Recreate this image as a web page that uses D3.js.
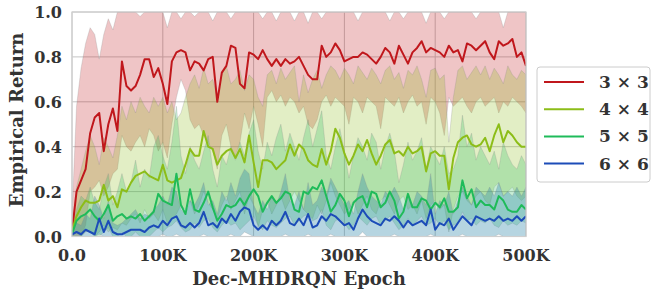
<!DOCTYPE html>
<html>
<head>
<meta charset="utf-8">
<script src="https://cdn.jsdelivr.net/npm/d3@7"></script>
<style>
  body { margin: 0; background: #fff; }
  svg { display: block; }
  text { font-family: "DejaVu Serif", serif; font-weight: bold; fill: #333; }
</style>
</head>
<body>
<div id="chart"></div>
<script>
// x categories: epochs every 5K
var epochs = d3.range(0, 500001, 5000);
var xTicks = [0, 100000, 200000, 300000, 400000, 500000];
var xTickLabels = ["0.0", "100K", "200K", "300K", "400K", "500K"];
var yTicks = [0, 0.2, 0.4, 0.6, 0.8, 1.0];
var seriesNames = ["3 \u00d7 3", "4 \u00d7 4", "5 \u00d7 5", "6 \u00d7 6"];
var seriesColors = ["#c0171c", "#8cbd18", "#1fbb5a", "#1c4cb8"];
var bandColors = ["#c0171c", "#8cbd18", "#1fbb5a", "#2f86a8"];
var bandOpacity = [0.25, 0.25, 0.25, 0.35];

// mean returns
var mean3 = [0.02, 0.20, 0.25, 0.30, 0.46, 0.53, 0.55, 0.38, 0.50, 0.57,
  0.47, 0.78, 0.67, 0.65, 0.67, 0.72, 0.79, 0.79, 0.71, 0.75,
  0.68, 0.59, 0.78, 0.82, 0.83, 0.82, 0.74, 0.78, 0.77, 0.74,
  0.79, 0.80, 0.60, 0.73, 0.76, 0.85, 0.84, 0.68, 0.66, 0.82,
  0.81, 0.79, 0.83, 0.79, 0.76, 0.79, 0.76, 0.79, 0.77, 0.78,
  0.80, 0.76, 0.72, 0.70, 0.70, 0.85, 0.80, 0.82, 0.86, 0.83,
  0.78, 0.79, 0.80, 0.80, 0.82, 0.81, 0.79, 0.77, 0.80, 0.84,
  0.82, 0.77, 0.85, 0.81, 0.77, 0.82, 0.84, 0.87, 0.82, 0.84,
  0.83, 0.82, 0.80, 0.85, 0.82, 0.83, 0.78, 0.86, 0.85, 0.83,
  0.85, 0.87, 0.82, 0.79, 0.87, 0.85, 0.86, 0.88, 0.80, 0.82,
  0.76];
var mean4 = [0.03, 0.09, 0.13, 0.16, 0.15, 0.15, 0.16, 0.23, 0.16, 0.18,
  0.13, 0.21, 0.20, 0.24, 0.27, 0.28, 0.29, 0.27, 0.26, 0.25,
  0.32, 0.25, 0.24, 0.25, 0.26, 0.32, 0.39, 0.36, 0.36, 0.47,
  0.40, 0.39, 0.32, 0.36, 0.38, 0.39, 0.35, 0.39, 0.33, 0.45,
  0.33, 0.22, 0.34, 0.34, 0.33, 0.30, 0.32, 0.34, 0.41, 0.36,
  0.41, 0.39, 0.34, 0.32, 0.31, 0.39, 0.32, 0.38, 0.48, 0.44,
  0.37, 0.32, 0.36, 0.41, 0.38, 0.43, 0.37, 0.32, 0.36, 0.41,
  0.43, 0.37, 0.38, 0.36, 0.40, 0.37, 0.38, 0.40, 0.29, 0.37,
  0.38, 0.36, 0.36, 0.21, 0.35, 0.42, 0.44, 0.45, 0.41, 0.40,
  0.41, 0.44, 0.38, 0.45, 0.50, 0.42, 0.47, 0.45, 0.42, 0.40,
  0.40];
var mean5 = [0.01, 0.07, 0.09, 0.10, 0.12, 0.09, 0.07, 0.10, 0.14, 0.07,
  0.09, 0.10, 0.08, 0.09, 0.08, 0.10, 0.07, 0.09, 0.11, 0.19,
  0.16, 0.15, 0.14, 0.28, 0.14, 0.10, 0.21, 0.12, 0.11, 0.15,
  0.20, 0.13, 0.07, 0.10, 0.14, 0.13, 0.14, 0.17, 0.14, 0.18,
  0.21, 0.18, 0.11, 0.15, 0.18, 0.15, 0.17, 0.20, 0.19, 0.12,
  0.11, 0.20, 0.19, 0.22, 0.21, 0.25, 0.18, 0.11, 0.14, 0.19,
  0.16, 0.09, 0.15, 0.17, 0.18, 0.13, 0.20, 0.19, 0.13, 0.15,
  0.20, 0.16, 0.08, 0.11, 0.19, 0.13, 0.13, 0.17, 0.16, 0.12,
  0.15, 0.13, 0.17, 0.11, 0.11, 0.13, 0.25, 0.17, 0.21, 0.13,
  0.16, 0.14, 0.14, 0.12, 0.18, 0.16, 0.12, 0.11, 0.11, 0.14,
  0.12];
var mean6 = [0.01, 0.02, 0.01, 0.03, 0.02, 0.01, 0.08, 0.02, 0.07, 0.02,
  0.01, 0.01, 0.02, 0.03, 0.03, 0.03, 0.02, 0.04, 0.05, 0.04,
  0.07, 0.05, 0.08, 0.09, 0.05, 0.04, 0.06, 0.04, 0.06, 0.11,
  0.05, 0.06, 0.04, 0.08, 0.06, 0.10, 0.07, 0.11, 0.13, 0.12,
  0.05, 0.03, 0.05, 0.03, 0.07, 0.05, 0.07, 0.11, 0.06, 0.05,
  0.08, 0.05, 0.10, 0.04, 0.05, 0.09, 0.07, 0.10, 0.09, 0.07,
  0.05, 0.06, 0.03, 0.08, 0.12, 0.09, 0.07, 0.06, 0.05, 0.08,
  0.07, 0.09, 0.07, 0.04, 0.07, 0.05, 0.06, 0.07, 0.05, 0.12,
  0.03, 0.06, 0.05, 0.08, 0.03, 0.06, 0.09, 0.07, 0.05, 0.09,
  0.08, 0.07, 0.08, 0.07, 0.09, 0.07, 0.08, 0.07, 0.09, 0.07,
  0.09];

// shaded band edges
var upper3 = [0.10, 0.58, 0.75, 0.86, 0.93, 0.90, 0.79, 0.90, 0.97, 0.92,
  1.0, 1.0, 1.0, 1.0, 1.0, 0.98, 1.0, 1.0, 1.0, 1.0,
  1.0, 0.93, 1.0, 1.0, 0.97, 1.0, 1.0, 0.98, 1.0, 1.0,
  1.0, 0.96, 1.0, 1.0, 1.0, 0.97, 1.0, 1.0, 1.0, 1.0,
  1.0, 1.0, 0.97, 1.0, 1.0, 0.96, 1.0, 1.0, 1.0, 0.96,
  1.0, 1.0, 0.95, 1.0, 1.0, 0.97, 1.0, 1.0, 1.0, 1.0,
  1.0, 1.0, 1.0, 0.96, 1.0, 1.0, 1.0, 1.0, 1.0, 1.0,
  0.96, 1.0, 1.0, 0.97, 1.0, 1.0, 1.0, 1.0, 0.95, 1.0,
  1.0, 1.0, 0.97, 1.0, 1.0, 1.0, 1.0, 1.0, 1.0, 0.97,
  1.0, 1.0, 1.0, 1.0, 1.0, 0.93, 1.0, 1.0, 1.0, 1.0,
  1.0];
var lower3 = [0.0, 0.0, 0.0, 0.05, 0.20, 0.22, 0.25, 0.18, 0.22, 0.28,
  0.30, 0.45, 0.40, 0.38, 0.42, 0.45, 0.40, 0.48, 0.45, 0.38,
  0.42, 0.35, 0.50, 0.62, 0.70, 0.65, 0.52, 0.48, 0.50, 0.45,
  0.42, 0.38, 0.30, 0.45, 0.50, 0.40, 0.36, 0.42, 0.55, 0.48,
  0.58, 0.50, 0.40, 0.62, 0.65, 0.60, 0.63, 0.58, 0.62, 0.60,
  0.55, 0.58, 0.50, 0.48, 0.52, 0.60, 0.63, 0.58, 0.62, 0.60,
  0.58, 0.50, 0.62, 0.60, 0.55, 0.62, 0.60, 0.58, 0.48, 0.62,
  0.60, 0.58, 0.62, 0.55, 0.60, 0.63, 0.58, 0.60, 0.50, 0.62,
  0.60, 0.55, 0.45, 0.62, 0.58, 0.60, 0.62, 0.58, 0.55, 0.60,
  0.62, 0.58, 0.60, 0.62, 0.55, 0.60, 0.58, 0.62, 0.60, 0.58,
  0.55];
var upper4 = [0.05, 0.22, 0.30, 0.38, 0.45, 0.40, 0.32, 0.44, 0.40, 0.35,
  0.45, 0.58, 0.52, 0.60, 0.55, 0.62, 0.58, 0.55, 0.62, 0.58,
  0.62, 0.55, 0.60, 0.52, 0.55, 0.62, 0.68, 0.72, 0.66, 0.75,
  0.68, 0.70, 0.62, 0.72, 0.76, 0.68, 0.70, 0.74, 0.65, 0.72,
  0.70, 0.62, 0.58, 0.72, 0.74, 0.68, 0.75, 0.70, 0.73, 0.76,
  0.60, 0.72, 0.64, 0.70, 0.74, 0.66, 0.72, 0.76, 0.74, 0.70,
  0.75, 0.72, 0.68, 0.76, 0.73, 0.70, 0.75, 0.72, 0.68, 0.74,
  0.76, 0.70, 0.73, 0.66, 0.74, 0.72, 0.76, 0.70, 0.62, 0.74,
  0.75, 0.70, 0.72, 0.42, 0.62, 0.74, 0.76, 0.70, 0.73, 0.76,
  0.72, 0.76, 0.70, 0.75, 0.72, 0.68, 0.76, 0.72, 0.70, 0.74,
  0.72];
var lower4 = [0.0, 0.0, 0.0, 0.02, 0.03, 0.0, 0.02, 0.05, 0.02, 0.04,
  0.03, 0.06, 0.05, 0.08, 0.10, 0.06, 0.12, 0.08, 0.10, 0.07,
  0.12, 0.06, 0.08, 0.10, 0.14, 0.12, 0.16, 0.10, 0.14, 0.20,
  0.15, 0.12, 0.08, 0.14, 0.18, 0.12, 0.16, 0.20, 0.10, 0.18,
  0.14, 0.04, 0.12, 0.16, 0.10, 0.14, 0.18, 0.12, 0.16, 0.20,
  0.16, 0.12, 0.10, 0.08, 0.14, 0.10, 0.16, 0.24, 0.18, 0.14,
  0.10, 0.12, 0.16, 0.10, 0.14, 0.18, 0.12, 0.10, 0.16, 0.18,
  0.14, 0.10, 0.16, 0.18, 0.12, 0.14, 0.10, 0.16, 0.08, 0.14,
  0.16, 0.12, 0.14, 0.02, 0.12, 0.18, 0.20, 0.16, 0.14, 0.18,
  0.20, 0.16, 0.14, 0.22, 0.24, 0.18, 0.20, 0.22, 0.18, 0.16,
  0.18];
var upper5 = [0.02, 0.12, 0.18, 0.16, 0.22, 0.15, 0.12, 0.22, 0.28, 0.14,
  0.20, 0.28, 0.20, 0.24, 0.34, 0.22, 0.30, 0.26, 0.40, 0.45,
  0.36, 0.30, 0.42, 0.58, 0.36, 0.28, 0.40, 0.34, 0.30, 0.38,
  0.45, 0.30, 0.22, 0.36, 0.32, 0.40, 0.34, 0.42, 0.36, 0.46,
  0.52, 0.38, 0.30, 0.42, 0.36, 0.44, 0.50, 0.38, 0.46, 0.40,
  0.34, 0.44, 0.52, 0.40, 0.48, 0.56, 0.36, 0.30, 0.40, 0.48,
  0.38, 0.26, 0.36, 0.44, 0.40, 0.34, 0.46, 0.42, 0.30, 0.40,
  0.46, 0.38, 0.24, 0.32, 0.42, 0.34, 0.38, 0.44, 0.30, 0.40,
  0.36, 0.32, 0.40, 0.28, 0.30, 0.36, 0.54, 0.40, 0.46, 0.34,
  0.40, 0.36, 0.32, 0.38, 0.30, 0.42, 0.36, 0.32, 0.30, 0.36,
  0.32];
var lower5 = [0.0, 0.02, 0.0, 0.03, 0.02, 0.0, 0.0, 0.02, 0.04, 0.0,
  0.0, 0.02, 0.0, 0.0, 0.02, 0.0, 0.0, 0.0, 0.02, 0.04,
  0.02, 0.04, 0.05, 0.07, 0.04, 0.02, 0.03, 0.06, 0.04, 0.07,
  0.08, 0.04, 0.02, 0.05, 0.07, 0.05, 0.06, 0.03, 0.05, 0.07,
  0.09, 0.05, 0.03, 0.07, 0.05, 0.04, 0.06, 0.08, 0.09, 0.05,
  0.07, 0.09, 0.10, 0.07, 0.08, 0.12, 0.05, 0.03, 0.07, 0.08,
  0.06, 0.03, 0.05, 0.09, 0.07, 0.05, 0.08, 0.09, 0.05, 0.07,
  0.09, 0.06, 0.03, 0.05, 0.08, 0.05, 0.07, 0.09, 0.05, 0.06,
  0.08, 0.05, 0.07, 0.03, 0.05, 0.06, 0.11, 0.07, 0.08, 0.05,
  0.07, 0.06, 0.08, 0.05, 0.04, 0.07, 0.05, 0.06, 0.05, 0.07,
  0.06];
var upper6 = [0.02, 0.06, 0.05, 0.10, 0.08, 0.18, 0.14, 0.08, 0.16, 0.06,
  0.05, 0.06, 0.08, 0.10, 0.12, 0.08, 0.10, 0.09, 0.12, 0.14,
  0.18, 0.14, 0.22, 0.20, 0.12, 0.10, 0.16, 0.14, 0.18, 0.24,
  0.14, 0.16, 0.10, 0.20, 0.16, 0.24, 0.18, 0.26, 0.30, 0.28,
  0.14, 0.10, 0.16, 0.12, 0.18, 0.14, 0.20, 0.28, 0.16, 0.14,
  0.20, 0.12, 0.24, 0.14, 0.16, 0.22, 0.18, 0.26, 0.22, 0.18,
  0.14, 0.16, 0.10, 0.20, 0.28, 0.22, 0.18, 0.16, 0.14, 0.20,
  0.18, 0.22, 0.18, 0.12, 0.18, 0.14, 0.20, 0.18, 0.14, 0.28,
  0.10, 0.16, 0.14, 0.20, 0.10, 0.16, 0.22, 0.18, 0.14, 0.22,
  0.20, 0.18, 0.22, 0.18, 0.24, 0.18, 0.20, 0.18, 0.22, 0.18,
  0.22];
var lower6 = [0.0, 0.0, 0.0, 0.0, 0.0, 0.0, 0.01, 0.0, 0.0, 0.0,
  0.0, 0.0, 0.0, 0.0, 0.0, 0.0, 0.0, 0.0, 0.0, 0.0,
  0.01, 0.0, 0.0, 0.01, 0.0, 0.0, 0.0, 0.0, 0.0, 0.01,
  0.0, 0.0, 0.0, 0.0, 0.0, 0.01, 0.0, 0.0, 0.02, 0.01,
  0.0, 0.0, 0.0, 0.0, 0.0, 0.0, 0.0, 0.01, 0.0, 0.0,
  0.0, 0.0, 0.01, 0.0, 0.0, 0.0, 0.0, 0.01, 0.0, 0.0,
  0.0, 0.0, 0.0, 0.0, 0.02, 0.0, 0.0, 0.0, 0.0, 0.0,
  0.0, 0.01, 0.0, 0.0, 0.0, 0.0, 0.0, 0.0, 0.0, 0.01,
  0.0, 0.0, 0.0, 0.0, 0.0, 0.0, 0.01, 0.0, 0.0, 0.0,
  0.0, 0.0, 0.0, 0.0, 0.01, 0.0, 0.0, 0.0, 0.0, 0.0,
  0.0];

var means = [mean3, mean4, mean5, mean6];
var uppers = [upper3, upper4, upper5, upper6];
var lowers = [lower3, lower4, lower5, lower6];

var width = 651, height = 297;
var plotLeft = 72, plotRight = 526, plotTop = 12, plotBottom = 236.5;

var svg = d3.select("#chart")
  .append("svg")
    .attr("width", width)
    .attr("height", height);

var x = d3.scaleLinear().domain([0, 500000]).range([plotLeft, plotRight]);
var y = d3.scaleLinear().domain([0, 1]).range([plotBottom, plotTop]);

svg.append("defs").append("clipPath")
    .attr("id", "plot-clip")
  .append("rect")
    .attr("x", plotLeft)
    .attr("y", plotTop)
    .attr("width", plotRight - plotLeft)
    .attr("height", plotBottom - plotTop);

// grid
svg.append("g")
  .selectAll("line")
  .data(xTicks)
  .enter()
  .append("line")
    .attr("x1", function(d) { return x(d); })
    .attr("x2", function(d) { return x(d); })
    .attr("y1", plotTop)
    .attr("y2", plotBottom)
    .style("stroke", "#c4c4c4")
    .style("stroke-width", 1);
svg.append("g")
  .selectAll("line")
  .data(yTicks)
  .enter()
  .append("line")
    .attr("x1", plotLeft)
    .attr("x2", plotRight)
    .attr("y1", function(d) { return y(d); })
    .attr("y2", function(d) { return y(d); })
    .style("stroke", "#c4c4c4")
    .style("stroke-width", 1);

var plot = svg.append("g").attr("clip-path", "url(#plot-clip)");

// shaded bands first
means.forEach(function(m, s) {
  var area = d3.area()
    .x(function(d, i) { return x(epochs[i]); })
    .y0(function(d, i) { return y(lowers[s][i]); })
    .y1(function(d, i) { return y(uppers[s][i]); });
  plot.append("path")
    .datum(m)
    .attr("d", area)
    .style("fill", bandColors[s])
    .style("fill-opacity", bandOpacity[s])
    .style("stroke", "#888")
    .style("stroke-opacity", 0.3)
    .style("stroke-width", 0.8);
});

// mean lines on top
means.forEach(function(m, s) {
  var line = d3.line()
    .x(function(d, i) { return x(epochs[i]); })
    .y(function(d) { return y(d); });
  plot.append("path")
    .datum(m)
    .attr("d", line)
    .style("fill", "none")
    .style("stroke", seriesColors[s])
    .style("stroke-width", 2)
    .style("stroke-linejoin", "round");
});

// frame
svg.append("rect")
  .attr("x", plotLeft)
  .attr("y", plotTop)
  .attr("width", plotRight - plotLeft)
  .attr("height", plotBottom - plotTop)
  .style("fill", "none")
  .style("stroke", "#cfcfcf")
  .style("stroke-width", 1.2);

// tick labels
svg.append("g")
  .selectAll("text")
  .data(xTicks)
  .enter()
  .append("text")
    .attr("x", function(d) { return x(d); })
    .attr("y", 261)
    .attr("text-anchor", "middle")
    .style("font-size", "16px")
    .text(function(d, i) { return xTickLabels[i]; });
svg.append("g")
  .selectAll("text")
  .data(yTicks)
  .enter()
  .append("text")
    .attr("x", 62)
    .attr("y", function(d) { return y(d) + 6; })
    .attr("text-anchor", "end")
    .style("font-size", "16px")
    .text(function(d) { return d.toFixed(1); });

// axis titles
svg.append("text")
  .attr("x", 299)
  .attr("y", 285)
  .attr("text-anchor", "middle")
  .style("font-size", "18px")
  .text("Dec-MHDRQN Epoch");
svg.append("text")
  .attr("transform", "translate(23,120) rotate(-90)")
  .attr("text-anchor", "middle")
  .style("font-size", "18px")
  .text("Empirical Return");

// legend
var legend = svg.append("g");
legend.append("rect")
  .attr("x", 537)
  .attr("y", 67)
  .attr("width", 113)
  .attr("height", 115)
  .attr("rx", 3)
  .style("fill", "#fff")
  .style("stroke", "#cccccc")
  .style("stroke-width", 1);
seriesNames.forEach(function(name, s) {
  var ly = 82 + s * 27.2;
  legend.append("line")
    .attr("x1", 544)
    .attr("x2", 584)
    .attr("y1", ly)
    .attr("y2", ly)
    .style("stroke", seriesColors[s])
    .style("stroke-width", 2);
  legend.append("text")
    .attr("x", 599)
    .attr("y", ly + 6)
    .style("font-size", "17px")
    .text(name);
});
</script>
</body>
</html>
